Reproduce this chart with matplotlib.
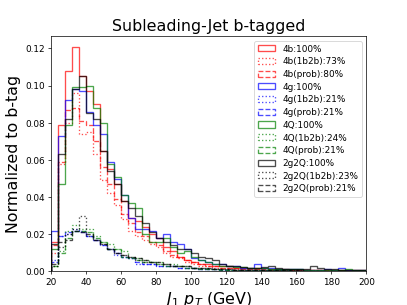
import numpy as np
import matplotlib
matplotlib.use("Agg")
import matplotlib.pyplot as plt

# 4 GeV bins from 20 to 200 GeV
edges = np.arange(20, 201, 4)
centers = 0.5 * (edges[:-1] + edges[1:])

# bin contents (normalized to b-tag)
b4_all = [0.016, 0.079, 0.108, 0.121, 0.105, 0.097, 0.090, 0.065, 0.055, 0.047,
          0.038, 0.029, 0.027, 0.024, 0.020, 0.018, 0.013, 0.011, 0.008, 0.006,
          0.005, 0.004, 0.004, 0.003, 0.003, 0.003, 0.002, 0.002, 0.002, 0.002,
          0.002, 0.0015, 0.0015, 0.0015, 0.001, 0.001, 0.001, 0.001, 0.001, 0.0008,
          0.0008, 0.0008, 0.0006, 0.0006, 0.0005]
b4_1b2b = [0.010, 0.058, 0.080, 0.096, 0.074, 0.075, 0.063, 0.049, 0.042, 0.036,
           0.028, 0.022, 0.019, 0.017, 0.015, 0.013, 0.010, 0.008, 0.007, 0.005,
           0.004, 0.003, 0.003, 0.002, 0.002, 0.002, 0.0015, 0.0015, 0.0015, 0.0012,
           0.001, 0.001, 0.001, 0.0008, 0.0008, 0.0007, 0.0006, 0.0006, 0.0005, 0.0005,
           0.0004, 0.0004, 0.0004, 0.0003, 0.0003]
b4_prob = [0.014, 0.059, 0.087, 0.088, 0.081, 0.079, 0.070, 0.056, 0.047, 0.039,
           0.031, 0.026, 0.021, 0.019, 0.016, 0.014, 0.011, 0.009, 0.008, 0.006,
           0.005, 0.004, 0.003, 0.003, 0.002, 0.002, 0.002, 0.0015, 0.0015, 0.0015,
           0.0012, 0.001, 0.001, 0.001, 0.0008, 0.0008, 0.0007, 0.0006, 0.0006, 0.0005,
           0.0005, 0.0004, 0.0004, 0.0004, 0.0003]

g4_all = [0.022, 0.073, 0.092, 0.098, 0.097, 0.086, 0.079, 0.074, 0.059, 0.050,
          0.041, 0.029, 0.023, 0.023, 0.022, 0.018, 0.020, 0.016, 0.015, 0.012,
          0.007, 0.006, 0.005, 0.004, 0.004, 0.003, 0.003, 0.002, 0.002, 0.004,
          0.002, 0.002, 0.0015, 0.0015, 0.0012, 0.0015, 0.001, 0.001, 0.001, 0.0015,
          0.001, 0.002, 0.001, 0.0008, 0.0006]
g4_1b2b = [0.006, 0.019, 0.020, 0.023, 0.022, 0.019, 0.017, 0.014, 0.012, 0.009,
           0.008, 0.007, 0.004, 0.004, 0.004, 0.003, 0.003, 0.003, 0.002, 0.002,
           0.002, 0.0015, 0.0015, 0.0012, 0.001, 0.001, 0.001, 0.0008, 0.0008, 0.0007,
           0.0006, 0.0006, 0.0005, 0.0005, 0.0004, 0.0004, 0.0004, 0.0003, 0.0003, 0.0003,
           0.0002, 0.0002, 0.0002, 0.0002, 0.0001]
g4_prob = [0.005, 0.019, 0.021, 0.022, 0.021, 0.019, 0.017, 0.014, 0.012, 0.010,
           0.008, 0.007, 0.005, 0.004, 0.004, 0.003, 0.003, 0.003, 0.002, 0.002,
           0.002, 0.0015, 0.0015, 0.0012, 0.001, 0.001, 0.001, 0.0008, 0.0008, 0.0007,
           0.0006, 0.0006, 0.0005, 0.0005, 0.0004, 0.0004, 0.0004, 0.0003, 0.0003, 0.0003,
           0.0002, 0.0002, 0.0002, 0.0002, 0.0001]

q4_all = [0.012, 0.047, 0.079, 0.099, 0.0995, 0.100, 0.088, 0.080, 0.058, 0.051,
          0.041, 0.037, 0.034, 0.020, 0.016, 0.016, 0.018, 0.013, 0.010, 0.011,
          0.008, 0.006, 0.005, 0.004, 0.003, 0.003, 0.0025, 0.0025, 0.002, 0.002,
          0.002, 0.0015, 0.0015, 0.0015, 0.0012, 0.0015, 0.001, 0.001, 0.001, 0.001,
          0.001, 0.001, 0.0012, 0.001, 0.0006]
q4_1b2b = [0.003, 0.011, 0.022, 0.025, 0.023, 0.023, 0.019, 0.016, 0.015, 0.012,
           0.011, 0.008, 0.007, 0.006, 0.005, 0.005, 0.004, 0.004, 0.003, 0.003,
           0.002, 0.002, 0.0015, 0.0015, 0.0012, 0.001, 0.001, 0.001, 0.0008, 0.0008,
           0.0007, 0.0006, 0.0006, 0.0005, 0.0005, 0.0004, 0.0004, 0.0004, 0.0003, 0.0003,
           0.0003, 0.0002, 0.0002, 0.0002, 0.0001]
q4_prob = [0.003, 0.010, 0.018, 0.022, 0.022, 0.021, 0.018, 0.016, 0.012, 0.012,
           0.008, 0.007, 0.006, 0.005, 0.005, 0.004, 0.003, 0.003, 0.003, 0.002,
           0.002, 0.0015, 0.0015, 0.0012, 0.001, 0.001, 0.001, 0.0008, 0.0008, 0.0007,
           0.0006, 0.0006, 0.0005, 0.0005, 0.0004, 0.0004, 0.0004, 0.0003, 0.0003, 0.0003,
           0.0002, 0.0002, 0.0002, 0.0002, 0.0001]

gq_all = [0.015, 0.063, 0.082, 0.098, 0.105, 0.085, 0.082, 0.065, 0.054, 0.047,
          0.038, 0.034, 0.030, 0.026, 0.021, 0.018, 0.016, 0.014, 0.012, 0.012,
          0.010, 0.0075, 0.007, 0.006, 0.004, 0.003, 0.003, 0.0025, 0.002, 0.002,
          0.0025, 0.003, 0.002, 0.0015, 0.0015, 0.0015, 0.0015, 0.003, 0.002, 0.0015,
          0.0012, 0.001, 0.001, 0.0008, 0.0006]
gq_1b2b = [0.003, 0.013, 0.020, 0.023, 0.030, 0.019, 0.017, 0.015, 0.012, 0.010,
           0.009, 0.008, 0.006, 0.005, 0.005, 0.004, 0.004, 0.003, 0.003, 0.003,
           0.002, 0.002, 0.002, 0.0015, 0.0015, 0.0012, 0.001, 0.001, 0.001, 0.0008,
           0.0008, 0.0007, 0.0006, 0.0006, 0.0005, 0.0005, 0.0004, 0.0004, 0.0004, 0.0003,
           0.0003, 0.0003, 0.0002, 0.0002, 0.0002]
gq_prob = [0.004, 0.016, 0.017, 0.022, 0.021, 0.020, 0.017, 0.015, 0.012, 0.010,
           0.009, 0.008, 0.007, 0.006, 0.005, 0.005, 0.004, 0.003, 0.003, 0.003,
           0.002, 0.002, 0.002, 0.0015, 0.0015, 0.0012, 0.001, 0.001, 0.001, 0.0008,
           0.0008, 0.0007, 0.0006, 0.0006, 0.0005, 0.0005, 0.0004, 0.0004, 0.0004, 0.0003,
           0.0003, 0.0003, 0.0002, 0.0002, 0.0002]

series = [
    (b4_all, 'red', '-', '4b:100%'),
    (b4_1b2b, 'red', ':', '4b(1b2b):73%'),
    (b4_prob, 'red', '--', '4b(prob):80%'),
    (g4_all, 'blue', '-', '4g:100%'),
    (g4_1b2b, 'blue', ':', '4g(1b2b):21%'),
    (g4_prob, 'blue', '--', '4g(prob):21%'),
    (q4_all, 'green', '-', '4Q:100%'),
    (q4_1b2b, 'green', ':', '4Q(1b2b):24%'),
    (q4_prob, 'green', '--', '4Q(prob):21%'),
    (gq_all, 'black', '-', '2g2Q:100%'),
    (gq_1b2b, 'black', ':', '2g2Q(1b2b):23%'),
    (gq_prob, 'black', '--', '2g2Q(prob):21%'),
]

# default 6.4x4.8 figure, saved small
fig, ax = plt.subplots(figsize=(6.4, 4.8))

for vals, col, ls, lab in series:
    ax.hist(centers, bins=edges, weights=vals, histtype='step', color=col,
            linestyle=ls, linewidth=1.5, alpha=0.7, label=lab)

ax.set_xlim(20, 200)
ax.set_ylim(0, 0.1265)
ax.set_yticks(np.arange(0, 0.121, 0.02))
ax.yaxis.set_major_formatter(matplotlib.ticker.FormatStrFormatter('%.2f'))
ax.set_title('Subleading-Jet b-tagged', fontsize=18)
ax.set_xlabel(r'$J_1\ p_T$ (GeV)', fontsize=18)
ax.set_ylabel('Normalized to b-tag', fontsize=18)
ax.legend(loc='upper right', fontsize=10, labelspacing=0.42)

fig.savefig('out.png', dpi=407 / 6.4)
